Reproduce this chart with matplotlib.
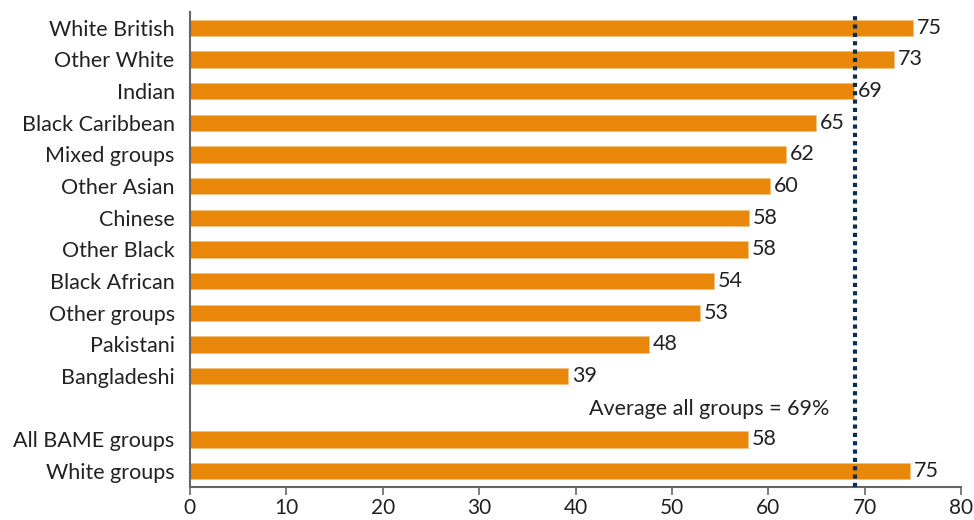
import matplotlib.pyplot as plt

plt.rcParams['font.family'] = ['Lato', 'DejaVu Sans']

groups = ["White British", "Other White", "Indian", "Black Caribbean", "Mixed groups",
          "Other Asian", "Chinese", "Other Black", "Black African", "Other groups",
          "Pakistani", "Bangladeshi", "All BAME groups", "White groups"]
values = [75.0, 73.0, 68.9, 64.9, 61.8, 60.2, 58.0, 57.9, 54.3, 52.9, 47.6, 39.2, 57.9, 74.7]
labels = ["75", "73", "69", "65", "62", "60", "58", "58", "54", "53", "48", "39", "58", "75"]
positions = list(range(12)) + [13, 14]
average = 69

orange = "#E8870A"
navy = "#0B2D55"
text_col = "#222222"

fig = plt.figure(figsize=(9.74, 5.2), dpi=100)
ax = fig.add_axes([0.195, 0.0635, 0.792, 0.9135])

ax.barh(positions, values, height=0.52, color=orange, edgecolor="#F5C27F", linewidth=0.6)
for p, v, l in zip(positions, values, labels):
    ax.text(v + 0.4, p, l, va="center", ha="left", fontsize=15.5, color=text_col)

ax.axvline(average, color=navy, linestyle=(0, (1, 1)), linewidth=3, zorder=3)
ax.text(53.9, 12.05, "Average all groups = 69%", ha="center", va="center",
        fontsize=15.5, color=text_col)

ax.set_ylim(14.5, -0.5)
ax.set_xlim(0, 80)
ax.set_yticks(positions)
ax.set_yticklabels(groups, fontsize=15.5, color=text_col)
ax.set_xticks(range(0, 81, 10))
ax.tick_params(axis="x", labelsize=15, labelcolor=text_col, color="#666666",
               length=6, width=1.2, pad=2)
ax.tick_params(axis="y", length=0, pad=11)

for s in ["top", "right"]:
    ax.spines[s].set_visible(False)
for s in ["left", "bottom"]:
    ax.spines[s].set_color("#666666")
    ax.spines[s].set_linewidth(1.5)

fig.savefig("out.png", dpi=100)
